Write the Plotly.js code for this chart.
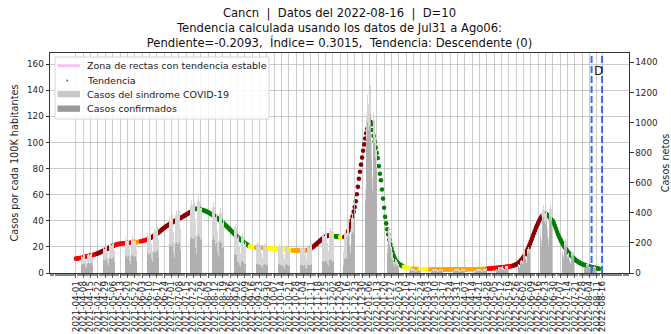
<!DOCTYPE html>
<html>
<head>
<meta charset="utf-8">
<script src="https://cdn.plot.ly/plotly-3.0.1.min.js"></script>
<style>html,body{margin:0;padding:0;background:#fff;}#chart{width:671px;height:334px;}</style>
</head>
<body>
<div id="chart"></div>
<script>
// ---------------- DATA ----------------
const startDate = '2021-04-01';

// Trend (casos por cada 100K habitantes), one value per day from startDate
const trendPer100k = [
11.0,11.1,11.2,11.4,11.5,11.7,11.9,12.0,12.2,12.4,
12.6,12.8,13.0,13.2,13.4,13.6,13.8,14.0,14.3,14.5,
14.8,15.1,15.5,15.8,16.2,16.6,17.0,17.4,17.8,18.2,
18.6,19.0,19.4,19.8,20.2,20.6,21.0,21.3,21.6,21.9,
22.1,22.3,22.4,22.5,22.6,22.7,22.8,22.9,23.0,23.0,
23.1,23.1,23.2,23.2,23.3,23.3,23.4,23.5,23.6,23.7,
23.9,24.1,24.3,24.5,24.7,24.9,25.1,25.3,25.6,25.9,
26.3,26.8,27.3,27.8,28.3,28.9,29.5,30.1,30.6,31.2,
31.8,32.5,33.2,33.9,34.5,35.1,35.7,36.2,36.8,37.3,
37.8,38.3,38.8,39.3,39.8,40.2,40.6,41.0,41.4,41.9,
42.3,42.7,43.1,43.6,44.1,44.6,45.1,45.6,46.1,46.6,
47.1,47.6,48.1,48.6,49.0,49.1,49.1,49.0,48.8,48.6,
48.4,48.2,47.9,47.6,47.3,46.9,46.5,46.1,45.6,45.1,
44.6,44.1,43.6,43.0,42.4,41.8,41.2,40.6,40.0,39.3,
38.6,37.9,37.2,36.4,35.6,34.8,34.0,33.2,32.4,31.6,
30.8,30.0,29.2,28.4,27.6,26.9,26.2,25.5,24.8,24.1,
23.5,22.9,22.3,21.8,21.3,20.9,20.5,20.2,20.0,19.8,
19.7,19.6,19.5,19.5,19.4,19.4,19.3,19.3,19.2,19.2,
19.1,19.1,19.0,19.0,18.9,18.9,18.8,18.8,18.7,18.7,
18.6,18.6,18.5,18.5,18.4,18.4,18.3,18.2,18.1,18.0,
17.9,17.8,17.7,17.6,17.5,17.4,17.3,17.3,17.2,17.2,
17.1,17.1,17.1,17.1,17.1,17.1,17.2,17.2,17.3,17.3,
17.4,17.6,17.9,18.3,18.8,19.3,19.9,20.5,21.2,21.9,
22.6,23.3,24.0,24.7,25.4,26.1,26.7,27.3,27.8,28.2,
28.5,28.7,28.8,28.8,28.7,28.6,28.4,28.2,28.0,27.9,
27.8,27.7,27.6,27.5,27.4,27.4,27.6,28.2,29.2,30.6,
32.5,35.0,37.5,40.3,43.5,47.0,50.5,55.0,60.3,66.0,
72.2,77.5,83.0,88.4,93.6,98.5,103.0,107.0,110.5,113.5,
115.3,115.8,114.0,109.5,105.0,100.5,96.0,92.0,88.0,82.0,
76.0,71.0,64.0,57.0,50.0,43.0,38.0,33.5,29.5,25.5,
22.0,19.0,16.0,13.5,11.5,10.0,8.8,7.8,7.1,6.5,
6.0,5.5,5.1,4.7,4.4,4.1,3.9,3.7,3.6,3.5,
3.4,3.3,3.2,3.2,3.1,3.1,3.0,3.0,2.9,2.9,
2.9,2.8,2.8,2.8,2.8,2.7,2.7,2.7,2.7,2.7,
2.7,2.7,2.7,2.7,2.7,2.7,2.7,2.7,2.7,2.7,
2.7,2.7,2.7,2.7,2.7,2.7,2.7,2.8,2.8,2.8,
2.8,2.8,2.8,2.8,2.8,2.8,2.8,2.8,2.8,2.8,
2.8,2.8,2.8,2.8,2.9,2.9,2.9,2.9,2.9,2.9,
2.9,2.9,3.0,3.0,3.0,3.0,3.0,3.1,3.1,3.1,
3.2,3.2,3.3,3.3,3.4,3.5,3.5,3.6,3.7,3.7,
3.8,3.9,4.0,4.0,4.1,4.2,4.3,4.4,4.5,4.6,
4.7,4.8,4.9,5.0,5.1,5.3,5.4,5.6,5.9,6.2,
6.6,7.1,7.7,8.4,9.2,10.1,11.1,12.3,13.6,15.0,
16.5,18.2,20.0,22.0,24.0,26.1,28.3,30.5,32.6,34.6,
36.5,38.3,40.0,41.5,42.8,43.8,44.5,44.9,45.0,44.9,
44.3,43.6,42.6,41.5,40.6,39.8,38.2,36.2,34.0,31.8,
29.7,27.8,26.0,24.4,22.9,21.5,20.2,19.0,17.8,16.6,
15.6,14.6,13.7,12.8,12.0,11.2,10.5,9.8,9.2,8.6,
8.1,7.6,7.2,6.8,6.5,6.2,5.9,5.6,5.4,5.2,
5.0,4.8,4.6,4.4,4.2,4.0,3.8,3.6,3.4,3.2
];

// Trend class per run of consecutive days: [class, number of days]
const trendClassSegments = [
['red',20],['darkred',18],['red',19],['orange',5],['red',8],['darkred',41],
['red',1],['orange',1],['yellow',1],['green',52],['yellow',6],['orange',13],
['yellow',22],['orange',15],['red',4],['darkred',17],['red',1],['yellow',3],
['green',5],['yellow',4],['darkred',26],['green',31],['yellow',9],['orange',6],
['yellow',10],['orange',55],['red',24],['darkred',29],['orange',2],['green',52]
];

// Casos netos (daily), from startDate
const casosSindrome = [
104,112,81,58,110,121,108,
118,122,86,64,120,133,122,
128,135,97,70,135,146,136,
146,158,110,82,157,170,158,
172,185,130,98,183,200,186,
195,208,150,110,207,226,212,
206,219,156,116,218,240,222,
212,222,160,120,225,243,226,
215,228,162,121,229,248,232,
228,242,172,130,244,265,245,
252,268,190,143,270,292,272,
288,306,218,164,310,334,312,
330,349,248,186,352,380,354,
362,383,272,205,388,418,388,
388,411,292,220,415,448,416,
420,445,316,238,450,484,450,
447,473,336,253,478,515,480,
435,461,328,246,466,502,467,
410,434,309,232,440,473,440,
375,396,282,212,401,432,402,
332,351,250,188,355,382,356,
280,296,211,159,300,323,301,
232,245,175,131,248,267,249,
194,205,146,110,208,224,208,
178,189,134,101,191,206,191,
174,184,131,99,187,201,187,
172,182,130,97,184,198,185,
168,178,126,95,180,194,180,
164,173,123,93,175,189,176,
158,167,118,89,169,182,169,
155,164,117,88,166,179,167,
159,168,119,90,170,183,170,
187,198,141,106,200,215,200,
231,244,174,131,247,266,248,
261,276,197,148,280,301,280,
255,270,192,145,273,294,274,
250,264,188,142,268,288,268,
341,361,257,193,366,393,366,
609,644,458,345,652,702,653,
940,990,700,560,1050,1180,1120,
1150,1240,880,640,1060,1020,900,
820,760,560,400,700,680,610,
430,380,270,190,300,270,230,
170,140,100,70,95,85,75,
62,58,42,30,50,46,42,
38,36,26,20,34,32,30,
28,27,19,14,27,29,26,
27,26,18,13,26,28,25,
26,27,18,14,27,29,26,
27,25,19,13,26,28,26,
26,26,18,13,25,28,25,
27,26,19,14,26,27,26,
26,27,18,13,27,29,26,
27,26,19,14,26,28,27,
28,27,19,14,27,29,27,
29,28,20,15,28,31,29,
32,33,23,17,34,37,34,
37,39,28,20,39,43,39,
42,45,32,23,45,49,45,
50,52,37,28,53,57,53,
77,81,58,43,82,89,82,
150,159,113,85,161,173,161,
277,293,209,157,297,320,298,
390,412,293,220,418,450,418,
397,420,299,225,425,458,426,
310,327,233,175,332,357,332,
195,206,147,111,210,225,210,
125,132,94,71,134,144,134,
79,83,59,45,84,91,84,
54,57,40,30,57,62,57,
40,42,30,23,43,46,43,
28,25,16,10,6,3
];

const casosConfirmados = [
52,55,40,28,56,60,53,
58,62,42,31,61,66,60,
64,66,49,35,68,72,68,
72,80,55,40,78,85,80,
86,92,65,48,92,100,93,
98,104,75,55,103,113,106,
103,110,78,58,109,120,111,
106,111,80,60,112,121,113,
107,114,81,60,114,124,116,
114,121,86,65,122,132,122,
126,134,95,71,135,146,136,
144,153,109,82,155,167,156,
165,174,124,93,176,190,177,
181,191,136,102,194,209,194,
194,205,146,110,207,224,208,
210,222,158,119,225,242,225,
223,236,168,126,239,257,240,
217,230,164,123,233,251,233,
205,217,154,116,220,236,220,
187,198,141,106,200,216,201,
166,175,125,94,177,191,178,
112,118,84,63,120,129,120,
70,74,52,39,74,80,75,
58,61,44,33,62,67,62,
53,57,40,30,57,62,57,
52,55,39,30,56,60,56,
52,55,39,29,55,59,55,
50,53,38,28,54,58,54,
49,52,37,28,52,57,53,
47,50,35,27,51,55,51,
46,49,35,26,50,54,50,
48,50,36,27,51,55,51,
56,59,42,32,60,64,60,
69,73,52,39,74,80,74,
78,83,59,44,84,90,84,
76,81,58,43,82,88,82,
88,92,66,50,94,101,94,
239,253,180,135,256,275,256,
518,547,389,293,554,597,555,
799,842,595,476,893,1003,952,
978,1054,748,544,901,867,765,
697,646,476,340,595,578,519,
301,266,189,133,210,189,161,
102,84,60,42,57,51,45,
34,32,23,17,28,25,23,
19,18,13,10,17,16,15,
14,13,10,7,13,15,13,
13,13,9,6,13,14,12,
13,13,9,7,13,14,13,
13,12,10,6,13,14,13,
13,13,9,6,12,14,12,
13,13,10,7,13,13,13,
13,13,9,6,13,15,13,
13,13,10,7,13,14,13,
14,13,10,7,13,15,14,
15,14,10,8,14,16,15,
18,18,13,9,19,20,19,
22,23,17,12,23,26,23,
27,29,21,15,29,32,29,
35,36,26,20,37,40,37,
58,61,44,32,62,67,62,
120,127,90,68,129,138,129,
227,240,171,129,244,262,244,
320,338,240,180,343,369,343,
326,344,245,185,349,376,349,
254,268,191,144,272,293,272,
160,169,121,91,172,185,172,
103,108,77,58,110,118,110,
65,68,48,37,69,75,69,
44,47,33,25,47,51,47,
33,34,25,19,35,38,35,
23,20,13,8,5,2
];

// Zone of stable-trend lines (pink), and analysis window lines
const stableZoneDates = ['2022-08-09','2022-08-13'];
const stableZoneValues = [4.5, 3.4];
const windowLineDates = ['2022-08-06','2022-08-16'];
const windowLabel = 'D';
const windowLabelDate = '2022-08-13';

const tickStart = '2021-04-01';
const tickLastWeekly = '2022-08-11';
const tickFinal = '2022-08-16';

const classColors = {darkred:'#8b0000', red:'#ff0000', orange:'#ffa500', yellow:'#ffff00', green:'#008000'};

// ---------------- HELPERS ----------------
function addDays(iso, n){
  const p = iso.split('-').map(Number);
  const d = new Date(Date.UTC(p[0], p[1]-1, p[2] + n));
  return d.toISOString().slice(0,10);
}
function datesFor(arr){ return arr.map((_, i) => addDays(startDate, i)); }

const trendColors = [];
trendClassSegments.forEach(([cls, n]) => { for (let i = 0; i < n; i++) trendColors.push(classColors[cls]); });

const tickVals = [];
for (let i = 0; ; i += 7) { const s = addDays(tickStart, i); if (s > tickLastWeekly) break; tickVals.push(s); }
tickVals.push(tickFinal);

// ---------------- TRACES ----------------
const DAY = 86400000;
const traces = [
  {type:'bar', x: datesFor(casosSindrome), y: casosSindrome, yaxis:'y2', name:'Casos del sindrome COVID-19',
   marker:{color:'#d6d6d6', line:{width:0}}, width: 0.55*DAY, showlegend:false, hoverinfo:'skip'},
  {type:'bar', x: datesFor(casosConfirmados), y: casosConfirmados, yaxis:'y2', name:'Casos confirmados',
   marker:{color:'#b0b0b0', line:{width:0}}, width: 0.55*DAY, showlegend:false, hoverinfo:'skip'},
  {type:'scatter', mode:'lines', x: stableZoneDates, y: stableZoneValues, yaxis:'y',
   name:'Zona de rectas con tendencia estable', line:{color:'#f6c4f2', width:4}, showlegend:false, hoverinfo:'skip'},
  {type:'scatter', mode:'markers', x: datesFor(trendPer100k), y: trendPer100k, yaxis:'y', name:'Tendencia',
   marker:{color: trendColors, size:4.6, line:{width:0}}, showlegend:false, hoverinfo:'skip'}
];

// ---------------- LAYOUT ----------------
const L = 50, T = 53, PW = 579, PH = 220;
const px = v => (v - L) / PW;
const py = v => (T + PH - v) / PH;
const nb = '\u00a0';

const shapes = windowLineDates.map(d => ({type:'line', xref:'x', yref:'paper', x0:d, x1:d, y0:0, y1:1,
  line:{color:'#4169e1', width:2, dash:'7px,3px'}, layer:'above'}));

// legend (drawn manually for matplotlib-like compact spacing)
shapes.push({type:'rect', xref:'paper', yref:'paper', x0:px(55), x1:px(269), y0:py(119), y1:py(57),
  fillcolor:'rgba(255,255,255,0.85)', line:{color:'#d6d6d6', width:1}, layer:'above'});
shapes.push({type:'line', xref:'paper', yref:'paper', x0:px(57.5), x1:px(80), y0:py(65.7), y1:py(65.7),
  line:{color:'#f6c4f2', width:3}, layer:'above'});
shapes.push({type:'circle', xref:'paper', yref:'paper', x0:px(66.3), x1:px(68.3), y0:py(81.4), y1:py(79.4),
  fillcolor:'#6a6a6a', line:{width:0}, layer:'above'});
shapes.push({type:'rect', xref:'paper', yref:'paper', x0:px(57.5), x1:px(80), y0:py(97.3), y1:py(91),
  fillcolor:'#c8c8c8', line:{width:0}, layer:'above'});
shapes.push({type:'rect', xref:'paper', yref:'paper', x0:px(57.5), x1:px(80), y0:py(111.8), y1:py(105.5),
  fillcolor:'#999999', line:{width:0}, layer:'above'});

const legendFont = {family:'DejaVu Sans', size:9.5, color:'#1a1a1a'};
const legendRows = [['Zona de rectas con tendencia estable',65.7],['Tendencia',80.3],['Casos del sindrome COVID-19',94.2],['Casos confirmados',108.7]];
const annotations = legendRows.map(([t, y]) => ({xref:'paper', yref:'paper', x:px(85), y:py(y), xanchor:'left', yanchor:'middle',
  text:t, showarrow:false, font:legendFont}));
annotations.push({xref:'x', yref:'paper', x:windowLabelDate, y:py(71), xanchor:'center', yanchor:'middle',
  text:windowLabel, showarrow:false, font:{family:'DejaVu Sans', size:12, color:'#222'}});

const tickFont = {family:'DejaVu Sans', size:8.8, color:'#262626'};
const gridCol = 'rgba(170,170,170,0.75)';
const layout = {
  width:671, height:334,
  margin:{l:L, r:671-L-PW, t:T, b:334-T-PH, pad:0},
  paper_bgcolor:'#ffffff', plot_bgcolor:'#ffffff',
  font:{family:'DejaVu Sans', color:'#262626'},
  showlegend:false,
  barmode:'overlay', bargap:0,
  title:{text:'Cancn'+nb+' |'+nb+' Datos del 2022-08-16'+nb+' |'+nb+' D=10<br>Tendencia calculada usando los datos de Jul31 a Ago06:<br>Pendiente=-0.2093,'+nb+' Índice= 0.3015,'+nb+' Tendencia: Descendente (0)',
    x:(L+PW/2)/671, xanchor:'center', xref:'container', yref:'container', y:1-17/334, yanchor:'top',
    font:{family:'DejaVu Sans', size:11.6, color:'#111'}},
  xaxis:{type:'date', range:['2021-03-07 05:00','2022-09-10 17:00'], tickmode:'array', tickvals:tickVals, ticktext:tickVals,
    tickangle:-90, tickfont:tickFont, ticks:'outside', ticklen:3.5, tickcolor:'#333', tickwidth:0.8,
    showgrid:true, gridcolor:gridCol, gridwidth:0.8, showline:true, mirror:true, linecolor:'#333', linewidth:1,
    zeroline:false, automargin:false, layer:'above traces',
    minor:{tickmode:'linear', tick0:'2021-04-01', dtick:DAY, ticks:'outside', ticklen:2, tickcolor:'#333', tickwidth:0.6, showgrid:false}},
  yaxis:{range:[0,168.5], tickmode:'linear', tick0:0, dtick:20, tickfont:tickFont, ticks:'outside', ticklen:3.5, tickcolor:'#333',
    showgrid:true, gridcolor:gridCol, gridwidth:0.8, showline:true, mirror:true, linecolor:'#333', linewidth:1, zeroline:false,
    automargin:false, layer:'above traces',
    title:{text:'Casos por cada 100K habitantes', font:{family:'DejaVu Sans', size:9.7, color:'#262626'}, standoff:6}},
  yaxis2:{overlaying:'y', side:'right', range:[0,1462], tickmode:'linear', tick0:0, dtick:200, tickfont:tickFont,
    ticks:'outside', ticklen:3.5, tickcolor:'#333', showgrid:false, showline:true, linecolor:'#333', linewidth:1, zeroline:false,
    automargin:false,
    title:{text:'Casos netos', font:{family:'DejaVu Sans', size:9.7, color:'#262626'}, standoff:6}},
  shapes:shapes,
  annotations:annotations
};

Plotly.newPlot('chart', traces, layout, {displayModeBar:false, staticPlot:true});
</script>
</body>
</html>
